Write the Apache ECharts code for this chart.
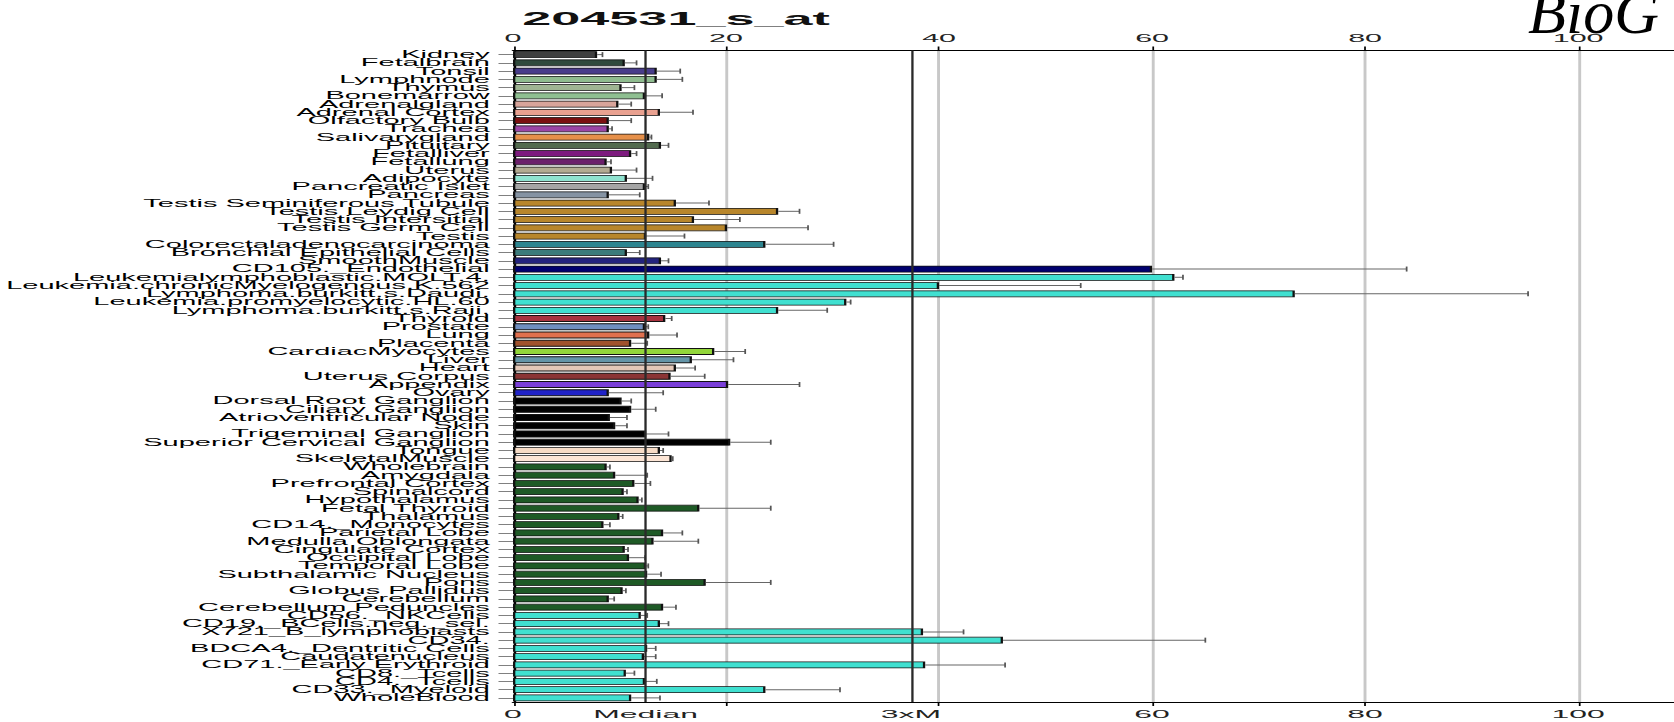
<!DOCTYPE html>
<html>
<head>
<meta charset="utf-8">
<title>204531_s_at</title>
<script src="https://cdn.jsdelivr.net/npm/echarts@6/dist/echarts.min.js"></script>
<style>
  html, body { margin: 0; padding: 0; background: #fff; overflow: hidden; width: 1674px; height: 722px; }
  /* The chart is laid out narrow and stretched sideways, like the wide BioGPS bar plots */
  #chart { width: 577px; height: 722px; transform: scaleX(2.9012); transform-origin: 0 0; }
</style>
</head>
<body>
<div id="chart"></div>
<script>
const TITLE = '204531_s_at';

const CATEGORIES = [
  'Kidney', 'Fetalbrain', 'Tonsil', 'Lymphnode', 'Thymus', 'Bonemarrow', 'Adrenalgland',
  'Adrenal Cortex', 'Olfactory Bulb', 'Trachea', 'Salivarygland', 'Pituitary', 'Fetalliver',
  'Fetallung', 'Uterus', 'Adipocyte', 'Pancreatic Islet', 'Pancreas',
  'Testis Seminiferous Tubule', 'Testis Leydig Cell', 'Testis Intersitial', 'Testis Germ Cell',
  'Testis', 'Colorectaladenocarcinoma', 'Bronchial Epithelial Cells', 'SmoothMuscle',
  'CD105._Endothelial', 'Leukemialymphoblastic.MOLT.4.', 'Leukemia.chronicMyelogenous.K.562',
  'Lymphoma.burkitt.s.Daudi.', 'Leukemia.promyelocytic.HL.60', 'Lymphoma.burkitt.s.Raji.',
  'Thyroid', 'Prostate', 'Lung', 'Placenta', 'CardiacMyocytes', 'Liver', 'Heart',
  'Uterus Corpus', 'Appendix', 'Ovary', 'Dorsal Root Ganglion', 'Ciliary Ganglion',
  'Atrioventricular Node', 'Skin', 'Trigeminal Ganglion', 'Superior Cervical Ganglion',
  'Tongue', 'SkeletalMuscle', 'Wholebrain', 'Amygdala', 'Prefrontal Cortex', 'Spinalcord',
  'Hypothalamus', 'Fetal Thyroid', 'Thalamus', 'CD14._Monocytes', 'Parietal Lobe',
  'Medulla Oblongata', 'Cingulate Cortex', 'Occipital Lobe', 'Temporal Lobe',
  'Subthalamic Nucleus', 'Pons', 'Globus Pallidus', 'Cerebellum', 'Cerebellum Peduncles',
  'CD56._NKCells', 'CD19._BCells.neg._sel.', 'X721_B_lymphoblasts', 'CD34.',
  'BDCA4._Dentritic Cells', 'Caudatenucleus', 'CD71._Early Erythroid', 'CD8._Tcells',
  'CD4._Tcells', 'CD33._Myeloid', 'WholeBlood'
];

// Mean expression per tissue
const VALUES = [
  7.9, 10.5, 13.5, 13.5, 10.2, 12.4, 9.9,
  13.8, 9.0, 9.0, 12.8, 13.9, 11.1,
  8.8, 9.3, 10.7, 12.4, 9.0,
  15.3, 24.9, 17.0, 20.1,
  12.5, 23.7, 10.7, 13.9,
  60.0, 62.1, 40.0,
  73.4, 31.3, 24.9,
  14.3, 12.4, 12.8, 11.1, 18.9, 16.8, 15.3,
  14.8, 20.2, 9.0, 10.2, 11.1,
  9.1, 9.6, 12.5, 20.4,
  13.8, 14.9, 8.8, 9.6, 11.4, 10.4,
  11.8, 17.5, 10.0, 8.5, 14.1,
  13.2, 10.5, 10.9, 12.5,
  12.6, 18.1, 10.3, 9.0, 14.1,
  12.0, 13.8, 38.5, 46.0,
  12.6, 12.3, 38.7, 10.6,
  12.4, 23.7, 11.1
];

// Upper error (standard deviation) per tissue
const ERRORS = [
  0.5, 1.1, 2.2, 2.4, 1.2, 1.6, 1.2,
  3.1, 2.1, 0.3, 0.2, 0.7, 0.5,
  0.4, 2.3, 2.4, 0.3, 2.9,
  3.1, 2.0, 4.3, 7.6,
  3.6, 6.4, 1.2, 0.7,
  23.9, 0.8, 13.3,
  21.9, 0.4, 4.6,
  0.6, 0.3, 2.6, 1.5, 2.9, 3.9, 1.8,
  3.2, 6.7, 5.1, 0.9, 2.3,
  1.6, 1.1, 2.1, 3.8,
  0.3, 0.1, 0.3, 3.0, 1.5, 0.3,
  0.3, 6.7, 0.3, 0.6, 1.8,
  4.2, 0.3, 1.5, 0.2,
  1.3, 6.1, 0.3, 0.5, 1.2,
  0.6, 0.8, 3.8, 19.0,
  0.8, 1.1, 7.5, 0.8,
  1.1, 7.0, 2.7
];

const MEDIAN = 12.45;
const X_MAX = 109;
const TOP_TICK_LABELS = [0, 20, 40, 60, 80, 100];
const BOTTOM_TICK_VALUES = [0, MEDIAN, 3 * MEDIAN, 60, 80, 100];
const BOTTOM_TICK_LABELS = ['0', 'Median', '3xM', '60', '80', '100'];
const BOTTOM_TICK_MARKS = [0, 20, 40, 60, 80, 100];

const SAME = (n, c) => Array(n).fill(c);
const BAR_COLORS = [
  '#3f3f3f', '#2f4a3c', '#483d8b', '#8fbc8f', '#9fb593', '#8fbf91', '#d8a49a',
  '#e9a190', '#7a1010', '#9b45a5', '#e6904a', '#536b4f', '#7d1b7e',
  '#6b1f6b', '#b3ab92', '#8fe3d0', '#a5a5a5', '#8593a3',
  ...SAME(5, '#b8862b'),
  '#2d8590', '#3b7b7b', '#23237e',
  '#00006e',
  ...SAME(5, '#40e0d0'),
  '#a8323e', '#6f8fc0', '#e0704e', '#a0522d', '#92d63a', '#6495a8', '#e4c8b8',
  '#8b3535', '#7a3fd8', '#1f22c8',
  ...SAME(6, '#000000'),
  '#f7dcc6', '#fde6d6',
  ...SAME(18, '#1e5a26'),
  ...SAME(11, '#40e0d0')
];

const K = 1674 / 577;           // sideways stretch of the chart box
const FONT = '"Liberation Sans", Arial, sans-serif';

const chart = echarts.init(document.getElementById('chart'), null, { renderer: 'svg' });

const errorData = CATEGORIES.map((c, i) => [i, VALUES[i], VALUES[i] + ERRORS[i]]);

chart.setOption({
  animation: false,
  backgroundColor: '#ffffff',
  title: {
    text: TITLE,
    left: 180,
    top: 10,
    padding: 0,
    textStyle: { fontFamily: FONT, fontWeight: 'bold', fontSize: 18, color: '#111' }
  },
  graphic: [{
    type: 'text',
    x: 1528 / K,
    y: 12,
    scaleX: 1 / K,
    silent: true,
    style: {
      text: 'BioG',
      font: 'italic 62px "Liberation Serif", "Times New Roman", serif',
      fill: '#000',
      verticalAlign: 'middle'
    }
  }],
  grid: { left: 513 / K, right: 0, top: 50.5, bottom: 20, outerBoundsMode: 'none' },
  xAxis: [
    {
      type: 'value', position: 'top', min: 0, max: X_MAX, interval: 20,
      axisLine: { show: true, lineStyle: { color: '#000', width: 1 } },
      axisTick: { show: true, length: 4, customValues: TOP_TICK_LABELS, lineStyle: { color: '#000', width: 0.6 } },
      axisLabel: {
        customValues: TOP_TICK_LABELS, margin: 7,
        fontSize: 10.5, color: '#222', fontFamily: FONT
      },
      splitLine: { show: true, lineStyle: { color: '#c8c8c8', width: 1 } }
    },
    {
      type: 'value', position: 'bottom', min: 0, max: X_MAX, interval: 20,
      axisLine: { show: true, lineStyle: { color: '#000', width: 1 } },
      axisTick: { show: true, length: 4, customValues: BOTTOM_TICK_MARKS, lineStyle: { color: '#000', width: 0.6 } },
      axisLabel: {
        customValues: BOTTOM_TICK_VALUES, margin: 7, fontSize: 11, color: '#222', fontFamily: FONT,
        formatter: v => {
          const i = BOTTOM_TICK_VALUES.findIndex(t => Math.abs(t - v) < 1e-6);
          return i >= 0 ? BOTTOM_TICK_LABELS[i] : '';
        }
      },
      splitLine: { show: false }
    }
  ],
  yAxis: {
    type: 'category', inverse: true, data: CATEGORIES,
    axisLine: { show: true, lineStyle: { color: '#000', width: 0.8 } },
    axisTick: { show: true, length: 5, alignWithLabel: true, interval: 0, lineStyle: { color: '#000', width: 0.5 } },
    axisLabel: { interval: 0, margin: 8, fontSize: 10, color: '#000', fontFamily: FONT },
    splitLine: { show: false }
  },
  series: [
    {
      type: 'bar',
      xAxisIndex: 0,
      barWidth: 6.8,
      z: 2,
      itemStyle: { borderColor: '#111', borderWidth: 0.8 },
      data: VALUES.map((v, i) => ({ value: v, itemStyle: { color: BAR_COLORS[i] } })),
      markLine: {
        silent: true,
        symbol: 'none',
        label: { show: false },
        lineStyle: { color: '#2a2a2a', width: 0.8, type: 'solid' },
        data: [{ xAxis: MEDIAN }, { xAxis: 3 * MEDIAN }]
      }
    },
    {
      type: 'custom',
      xAxisIndex: 0,
      z: 4,
      silent: true,
      encode: { x: [1, 2], y: 0 },
      data: errorData,
      renderItem: (params, api) => {
        const cat = api.value(0);
        const p0 = api.coord([api.value(1), cat]);
        const p1 = api.coord([api.value(2), cat]);
        const h = 2.5;
        return {
          type: 'group',
          children: [
            { type: 'line', shape: { x1: p0[0], y1: p0[1], x2: p1[0], y2: p1[1] },
              style: { stroke: '#666', lineWidth: 1 } },
            { type: 'line', shape: { x1: p1[0], y1: p1[1] - h, x2: p1[0], y2: p1[1] + h },
              style: { stroke: '#555', lineWidth: 0.6 } }
          ]
        };
      }
    }
  ]
});
</script>
</body>
</html>
